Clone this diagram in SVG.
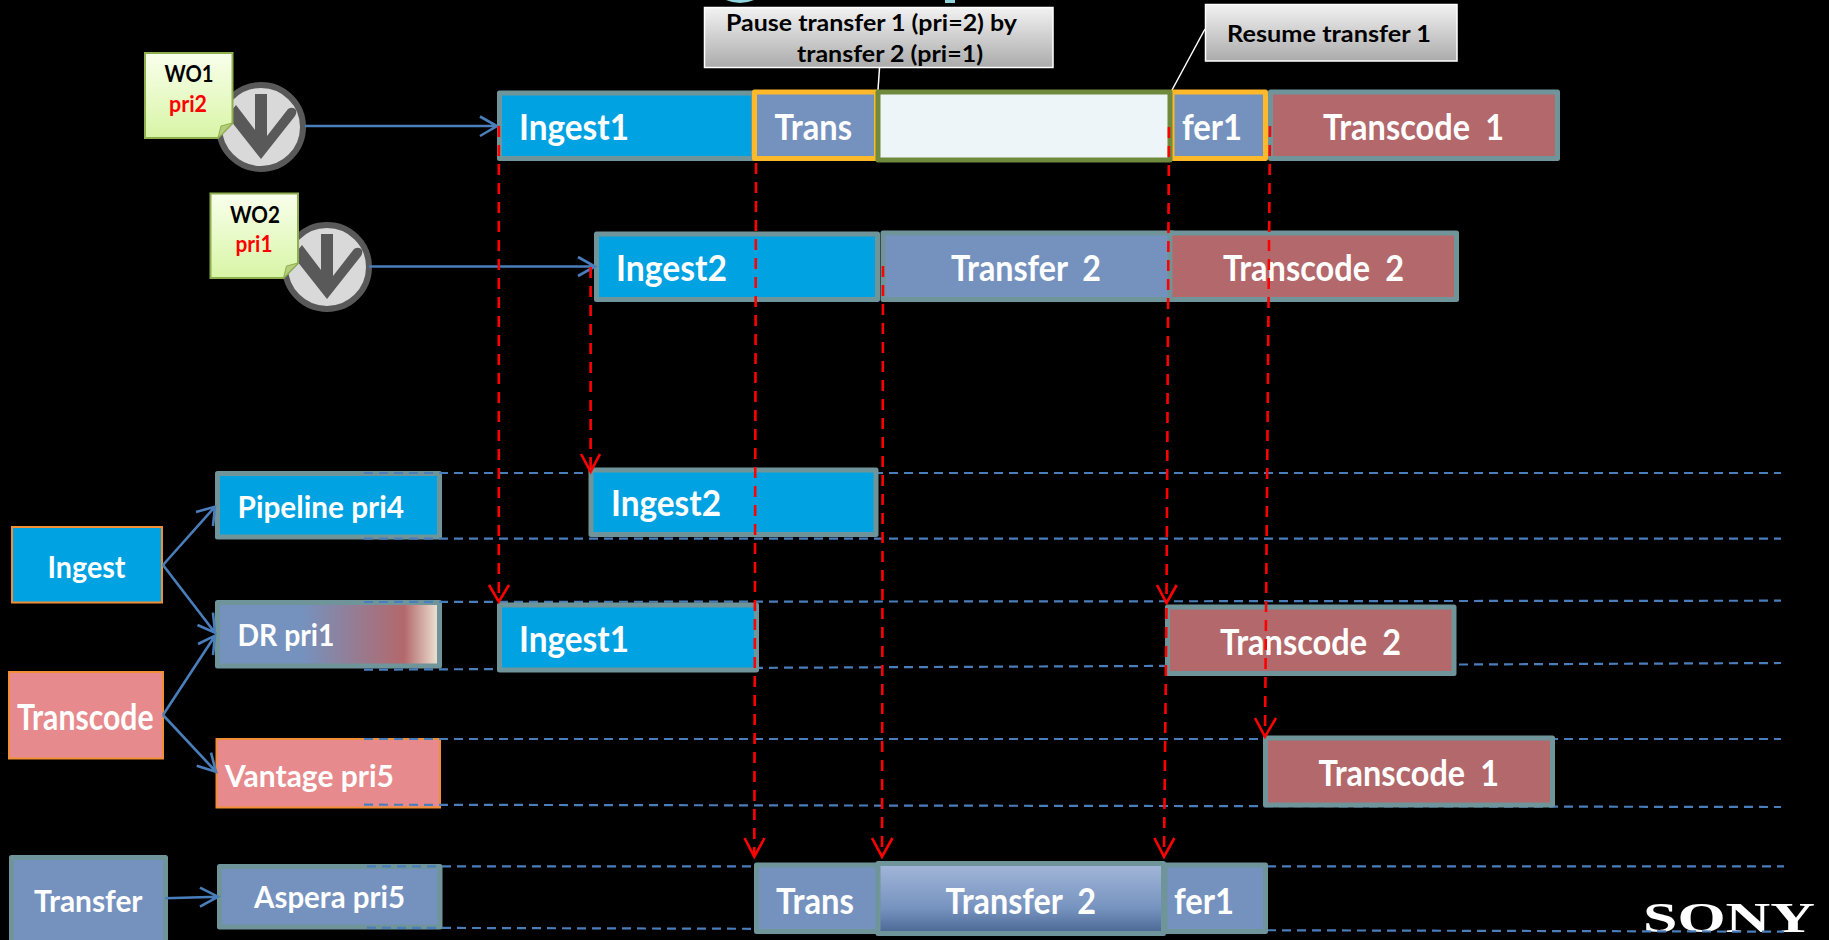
<svg xmlns="http://www.w3.org/2000/svg" width="1829" height="940" viewBox="0 0 1829 940">
<style>
text{font-family:"Lato","Liberation Sans",sans-serif;font-weight:700}
.w{fill:#fff}
.k{fill:#000}
.r{fill:#f00}
.big{font-size:36px}
.mid{font-size:30px}
.sm{font-size:23px}
.gap{word-spacing:8px}
.bar{stroke:#6f9499;stroke-width:5;stroke-linejoin:round}
.ing{fill:#00a2e2}
.tfr{fill:#7592bf}
.tc{fill:#b3686b}
.org{stroke:#fdb92a;stroke-width:5;stroke-linejoin:round;fill:#7592bf}
.src{stroke:#f28e35;stroke-width:2}
.call{fill:url(#gc);stroke:#fff;stroke-width:1.5}
.note{fill:url(#gn);stroke:#8fae4f;stroke-width:2}
.fold{fill:#b5ce7b;stroke:#8fae4f;stroke-width:1}
.disc{fill:#d9d9d9;stroke:#595959;stroke-width:6}
.da{fill:#595959}
.lane{stroke:#4a7ebb;stroke-width:2.2;stroke-dasharray:9 6;fill:none}
.flow{stroke:#4a7ebb;stroke-width:2.6;fill:none}
.red{stroke:#f00;stroke-width:2.6;stroke-dasharray:11 8;fill:none}
.rh{stroke:#f00;stroke-width:2.6;fill:none}
.pt{stroke:#fff;stroke-width:1.5;fill:none}
</style>
<defs>
<linearGradient id="gc" x1="0" y1="0" x2="0" y2="1"><stop offset="0" stop-color="#f2f2f2"/><stop offset="1" stop-color="#ababab"/></linearGradient>
<linearGradient id="gn" x1="0" y1="0" x2="0" y2="1"><stop offset="0" stop-color="#f9ffec"/><stop offset="1" stop-color="#d8f5a5"/></linearGradient>
<linearGradient id="gd" x1="0" y1="0" x2="1" y2="0"><stop offset="0" stop-color="#7592bf"/><stop offset="0.38" stop-color="#7592bf"/><stop offset="0.84" stop-color="#b3686b"/><stop offset="1" stop-color="#efe8d8"/></linearGradient>
<linearGradient id="gt" x1="0" y1="0" x2="0" y2="1"><stop offset="0" stop-color="#a3b7d8"/><stop offset="0.65" stop-color="#7592bf"/><stop offset="1" stop-color="#4a6794"/></linearGradient>
</defs>
<rect width="1829" height="940" fill="#000"/>

<g id="title-remnant">
<path d="M726,0 Q740,6 754,0 Z" fill="#8fd3dc"/>
<rect x="945" y="0" width="10" height="3" fill="#8fd3dc"/>
</g>

<g id="wo1-disc">
<circle class="disc" cx="261" cy="127" r="42"/>
<path class="da" d="M255,94 H267 V136 L288,109 Q293,106 296,110 Q297,113 295,116 L261,159 L227,116 L236,105 L255,130 Z"/>
</g>
<g id="wo1-note">
<path class="note" d="M145,53 H232.5 V123 L218,138 H145 Z"/>
<path class="fold" d="M232.5,123 L221,126 L218,138 Z"/>
<text class="k sm" x="164.5" y="82" textLength="49" lengthAdjust="spacingAndGlyphs">WO1</text>
<text class="r sm" x="169" y="111.500" textLength="38" lengthAdjust="spacingAndGlyphs">pri2</text>
</g>
<g id="wo2-disc">
<circle class="disc" cx="327" cy="267" r="42"/>
<path class="da" d="M321,234 H333 V276 L354,249 Q359,246 362,250 Q363,253 361,256 L327,299 L293,256 L302,245 L321,270 Z"/>
</g>
<g id="wo2-note">
<path class="note" d="M210.500,193.500 H298 V263 L283.500,278 H210.500 Z"/>
<path class="fold" d="M298,263 L286.500,266 L283.500,278 Z"/>
<text class="k sm" x="230" y="223" textLength="50" lengthAdjust="spacingAndGlyphs">WO2</text>
<text class="r sm" x="235.500" y="252" textLength="37" lengthAdjust="spacingAndGlyphs">pri1</text>
</g>

<g id="callout-pause">
<path class="pt" d="M879.500,68 L878,90"/>
<rect class="call" x="704.500" y="7.500" width="348.500" height="60"/>
<text class="k sm" x="726" y="31" textLength="291" lengthAdjust="spacingAndGlyphs">Pause transfer 1 (pri=2) by</text>
<text class="k sm" x="797" y="62" textLength="186" lengthAdjust="spacingAndGlyphs">transfer 2 (pri=1)</text>
</g>
<g id="callout-resume">
<path class="pt" d="M1205,29 L1172,90"/>
<rect class="call" x="1205.500" y="4.500" width="251.500" height="56.500"/>
<text class="k sm" x="1227" y="42" textLength="204" lengthAdjust="spacingAndGlyphs">Resume transfer 1</text>
</g>

<g id="row1-ingest1"><rect class="bar ing" x="499.500" y="93" width="254" height="65.500"/><text class="w big" x="519" y="140" textLength="110" lengthAdjust="spacingAndGlyphs">Ingest1</text></g>
<g id="row1-transcode1"><rect class="bar tc" x="1270.500" y="92" width="287" height="66.500"/><text class="w big gap" x="1323" y="140" textLength="181" lengthAdjust="spacingAndGlyphs">Transcode 1</text></g>
<g id="row1-trans"><rect class="org" x="754.500" y="92" width="122" height="66.500"/><text class="w big" x="774.500" y="140" textLength="77.500" lengthAdjust="spacingAndGlyphs">Trans</text></g>
<g id="row1-fer1"><rect class="org" x="1172" y="92" width="93.500" height="66.500"/><text class="w big" x="1182" y="140" textLength="60" lengthAdjust="spacingAndGlyphs">fer1</text></g>
<g id="row1-gap"><rect x="878" y="92" width="292" height="68" fill="#edf5f8" stroke="#6f8a3c" stroke-width="5" stroke-linejoin="round"/></g>

<g id="row2-ingest2"><rect class="bar ing" x="596.500" y="234" width="281" height="65.500"/><text class="w big" x="616" y="280.500" textLength="111" lengthAdjust="spacingAndGlyphs">Ingest2</text></g>
<g id="row2-transfer2"><rect class="bar tfr" x="883" y="233" width="290" height="66.500"/><text class="w big gap" x="951" y="280.500" textLength="150" lengthAdjust="spacingAndGlyphs">Transfer 2</text></g>
<g id="row2-transcode2"><rect class="bar tc" x="1170" y="233" width="286.500" height="66.500"/><text class="w big gap" x="1223" y="280.500" textLength="181" lengthAdjust="spacingAndGlyphs">Transcode 2</text></g>

<g id="src-ingest"><rect class="ing src" x="12" y="527" width="150" height="75.500"/><text class="w mid" x="47.500" y="577.500" textLength="78" lengthAdjust="spacingAndGlyphs">Ingest</text></g>
<g id="src-transcode"><rect class="src" fill="#e68a8d" x="9" y="672" width="154" height="86.500"/><text class="w big" x="17" y="729.500" textLength="136.500" lengthAdjust="spacingAndGlyphs">Transcode</text></g>
<g id="src-transfer"><rect class="bar tfr" x="11.500" y="857.500" width="154" height="90"/><text class="w mid" x="34" y="911.500" textLength="108.500" lengthAdjust="spacingAndGlyphs">Transfer</text></g>

<g id="res-pipeline"><rect class="bar ing" x="217.500" y="473.500" width="222" height="63.500"/><text class="w mid" x="237.500" y="517.500" textLength="166.500" lengthAdjust="spacingAndGlyphs">Pipeline pri4</text></g>
<g id="res-dr"><rect x="217.500" y="602.500" width="222" height="63.500" stroke="#6f9499" stroke-width="5" stroke-linejoin="round" fill="url(#gd)"/><text class="w mid" x="237.500" y="646" textLength="97" lengthAdjust="spacingAndGlyphs">DR pri1</text></g>
<g id="res-vantage"><rect class="src" fill="#e68a8d" x="216.500" y="739" width="223.500" height="68.500"/><text class="w mid" x="225" y="787" textLength="169" lengthAdjust="spacingAndGlyphs">Vantage pri5</text></g>
<g id="res-aspera"><rect class="bar tfr" x="219.500" y="866.500" width="220.500" height="60.500"/><text class="w mid" x="254" y="907.500" textLength="151" lengthAdjust="spacingAndGlyphs">Aspera pri5</text></g>

<g id="sony"><text x="1643" y="932" fill="#fff" style="font-family:'Liberation Serif',serif;font-weight:700;font-size:42px" textLength="172" lengthAdjust="spacingAndGlyphs">SONY</text></g>

<g id="lanes">
<path class="lane" d="M364,473 H1781"/>
<path class="lane" d="M364,538.700 H1781"/>
<path class="lane" d="M364,602 L1781,600.700"/>
<path class="lane" d="M364,669.700 L1781,663"/>
<path class="lane" d="M364,739 H1781"/>
<path class="lane" d="M364,804.700 L1781,807"/>
<path class="lane" d="M367,866.300 H1784"/>
<path class="lane" d="M367,927.700 L1784,931.700"/>
</g>

<g id="lane-ingest2"><rect class="bar ing" x="591" y="470" width="285" height="64.500"/><text class="w big" x="611" y="516" textLength="110" lengthAdjust="spacingAndGlyphs">Ingest2</text></g>
<g id="lane-ingest1"><rect class="bar ing" x="499.500" y="605" width="257" height="65"/><text class="w big" x="519" y="652" textLength="110" lengthAdjust="spacingAndGlyphs">Ingest1</text></g>
<g id="lane-transcode2"><rect class="bar tc" x="1167.500" y="607" width="286.500" height="66.500"/><text class="w big gap" x="1220" y="655" textLength="181" lengthAdjust="spacingAndGlyphs">Transcode 2</text></g>
<g id="lane-transcode1"><rect class="bar tc" x="1265.500" y="738" width="287" height="67"/><text class="w big gap" x="1318.500" y="786" textLength="180.500" lengthAdjust="spacingAndGlyphs">Transcode 1</text></g>
<g id="lane-trans"><rect class="bar tfr" x="756.500" y="865" width="122" height="66.500"/><text class="w big" x="776" y="914" textLength="78" lengthAdjust="spacingAndGlyphs">Trans</text></g>
<g id="lane-fer1"><rect class="bar tfr" x="1165" y="865" width="100.500" height="66.500"/><text class="w big" x="1174" y="914" textLength="60" lengthAdjust="spacingAndGlyphs">fer1</text></g>
<g id="lane-transfer2"><rect x="878" y="863.500" width="285.500" height="70" stroke="#6f9499" stroke-width="5" stroke-linejoin="round" fill="url(#gt)"/><text class="w big gap" x="945.500" y="914" textLength="150.500" lengthAdjust="spacingAndGlyphs">Transfer 2</text></g>

<g id="connectors">
<g id="flows">
<path class="flow" d="M305,126 H497 M480,116.500 L497,126 L480,136"/>
<path class="flow" d="M369,266.500 H595 M578,257 L595,266.500 L578,276"/>
<path class="flow" d="M163,565 L215,506.700 M196,512 L215,506.700 L213,526"/>
<path class="flow" d="M163,565 L215,632.700 M197.500,625 L215,632.700 L213,612.700"/>
<path class="flow" d="M163,715 L215,635.700 M198,644 L215,635.700 L213,655"/>
<path class="flow" d="M163,715 L216,771.700 M196.700,765.700 L216,771.700 L211,752.700"/>
<path class="flow" d="M165,898.300 L218,896.700 M200,887.700 L218,896.700 L200,906.700"/>
</g>
<g id="red-links">
<path class="red" d="M498.800,126 V600"/><path class="rh" d="M489,585 L498.800,601.700 L509,585"/>
<path class="red" d="M590.600,267 V470"/><path class="rh" d="M581,454 L590.600,471.700 L600,454"/>
<path class="red" d="M756,163 L754.300,855"/><path class="rh" d="M744.500,838 L754.300,856.700 L764.500,838"/>
<path class="red" d="M883,266 L882,855"/><path class="rh" d="M872,838 L882,856.700 L892.500,838"/>
<path class="red" d="M1169,127 L1166.500,601"/><path class="rh" d="M1157,585 L1166.500,603 L1176.700,585"/>
<path class="red" d="M1166.500,608 L1164,855"/><path class="rh" d="M1154.400,838 L1164,856.700 L1174.400,838"/>
<path class="red" d="M1270,126 L1265,735"/><path class="rh" d="M1255,718 L1265,736.700 L1276,718"/>
</g>
</g>
</svg>
